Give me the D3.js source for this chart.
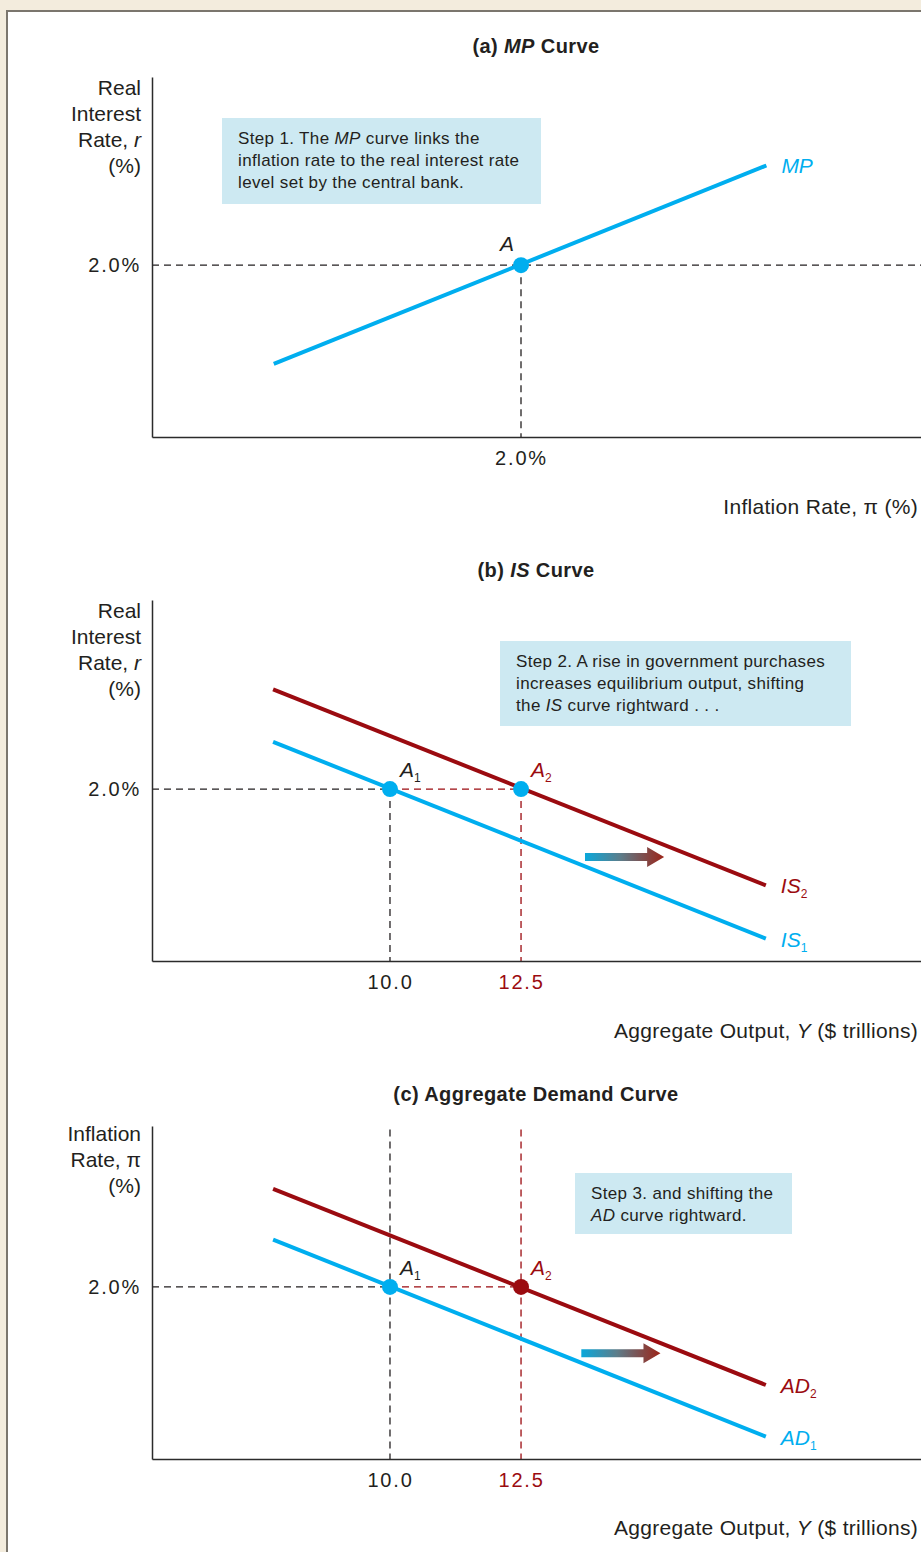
<!DOCTYPE html>
<html>
<head>
<meta charset="utf-8">
<script src="https://cdn.jsdelivr.net/npm/d3@7"></script>
<style>
  body { margin: 0; background: #f3ecdd; }
  svg { display: block; font-family: "Liberation Sans", Arial, sans-serif; }
</style>
</head>
<body>
<svg id="chart" width="921" height="1552"></svg>
<script>
// ---- data ----
// (a) MP curve: inflation (%) vs real interest rate (%)
const mpCurve = [{x: 0.66, y: 0.85}, {x: 3.33, y: 3.16}];
const mpPoints = [{x: 2.0, y: 2.0, name: "A", sub: ""}];
const inflationTicks = [2.0];

// (b) IS curves: output ($ trillions) vs real interest rate (%)
const isCurve1 = [{x: 7.77, y: 2.55}, {x: 17.17, y: 0.26}];
const isCurve2 = [{x: 7.77, y: 3.16}, {x: 17.17, y: 0.88}];
const isPoints = [{x: 10.0, y: 2.0, name: "A", sub: "1"}, {x: 12.5, y: 2.0, name: "A", sub: "2"}];

// (c) AD curves: output ($ trillions) vs inflation (%)
const adCurve1 = [{x: 7.77, y: 2.55}, {x: 17.17, y: 0.26}];
const adCurve2 = [{x: 7.77, y: 3.14}, {x: 17.17, y: 0.86}];
const adPoints = [{x: 10.0, y: 2.0, name: "A", sub: "1"}, {x: 12.5, y: 2.0, name: "A", sub: "2"}];

const outputTicks = [10.0, 12.5];
const rateTicks = [2.0];

const BLUE = "#00aeef";
const RED = "#9b0b10";
const INK = "#231f20";
const BOX = "#cde9f2";

const svg = d3.select("#chart");

// panel frame
svg.append("rect")
    .attr("x", 7).attr("y", 11)
    .attr("width", 930).attr("height", 1560)
    .attr("fill", "#fff")
    .attr("stroke", "#7b766d")
    .attr("stroke-width", 2);

// arrow gradient
const defs = svg.append("defs");
const grad = defs.append("linearGradient").attr("id", "shiftGrad");
grad.append("stop").attr("offset", "0%").attr("stop-color", "#0aa8db");
grad.append("stop").attr("offset", "45%").attr("stop-color", "#5d7d8a");
grad.append("stop").attr("offset", "100%").attr("stop-color", "#9c2418");

function richText(sel, parts) {
    parts.forEach(p => {
        const seg = typeof p === "string" ? {t: p} : p;
        sel.append("tspan")
            .attr("font-style", seg.i ? "italic" : null)
            .text(seg.t);
    });
}

const pct = d => d.toFixed(1) + "%";
const dec = d => d.toFixed(1);

const panels = [
    {
        title: ["(a) ", {t: "MP", i: true}, " Curve"], titleY: 53,
        top: 77, bottom: 437, xDomain: [0, 4.168], yMax: 4.19,
        yLabel: [["Real"], ["Interest"], ["Rate, ", {t: "r", i: true}], ["(%)"]], yLabelY: 95,
        xLabel: ["Inflation Rate, \u03c0 (%)"], xLabelY: 514,
        xTicks: inflationTicks, xFormat: pct, xTickColor: () => INK, yTicks: rateTicks,
        curves: [{data: mpCurve, color: BLUE, label: "MP", sub: ""}],
        guides: [
            {x1: 0, y1: 2, x2: 4.168, y2: 2, color: INK},
            {x1: 2, y1: 2, x2: 2, y2: 0, color: INK}
        ],
        points: mpPoints, pointColors: [BLUE], labelColors: [INK],
        box: {x: 222, y: 118, w: 319, h: 86, lines: [
            ["Step 1. The ", {t: "MP", i: true}, " curve links the"],
            ["inflation rate to the real interest rate"],
            ["level set by the central bank."]
        ]},
        arrow: null
    },
    {
        title: ["(b) ", {t: "IS", i: true}, " Curve"], titleY: 577,
        top: 600, bottom: 961, xDomain: [5.46, 20.13], yMax: 4.2,
        yLabel: [["Real"], ["Interest"], ["Rate, ", {t: "r", i: true}], ["(%)"]], yLabelY: 618,
        xLabel: ["Aggregate Output, ", {t: "Y", i: true}, " ($ trillions)"], xLabelY: 1038,
        xTicks: outputTicks, xFormat: dec, xTickColor: d => d === 12.5 ? RED : INK, yTicks: rateTicks,
        curves: [
            {data: isCurve2, color: RED, label: "IS", sub: "2"},
            {data: isCurve1, color: BLUE, label: "IS", sub: "1"}
        ],
        guides: [
            {x1: 5.46, y1: 2, x2: 10, y2: 2, color: INK},
            {x1: 10, y1: 2, x2: 12.5, y2: 2, color: RED},
            {x1: 10, y1: 2, x2: 10, y2: 0, color: INK},
            {x1: 12.5, y1: 2, x2: 12.5, y2: 0, color: RED}
        ],
        points: isPoints, pointColors: [BLUE, BLUE], labelColors: [INK, RED],
        box: {x: 500, y: 641, w: 351, h: 85, lines: [
            ["Step 2. A rise in government purchases"],
            ["increases equilibrium output, shifting"],
            ["the ", {t: "IS", i: true}, " curve rightward . . ."]
        ]},
        arrow: {x1: 13.72, x2: 15.23, y: 1.21}
    },
    {
        title: ["(c) Aggregate Demand Curve"], titleY: 1101,
        top: 1126, bottom: 1459, xDomain: [5.46, 20.13], yMax: 3.87,
        yLabel: [["Inflation"], ["Rate, \u03c0"], ["(%)"]], yLabelY: 1141,
        xLabel: ["Aggregate Output, ", {t: "Y", i: true}, " ($ trillions)"], xLabelY: 1535,
        xTicks: outputTicks, xFormat: dec, xTickColor: d => d === 12.5 ? RED : INK, yTicks: rateTicks,
        curves: [
            {data: adCurve2, color: RED, label: "AD", sub: "2"},
            {data: adCurve1, color: BLUE, label: "AD", sub: "1"}
        ],
        guides: [
            {x1: 5.46, y1: 2, x2: 10, y2: 2, color: INK},
            {x1: 10, y1: 2, x2: 12.5, y2: 2, color: RED},
            {x1: 10, y1: 3.83, x2: 10, y2: 0, color: INK},
            {x1: 12.5, y1: 3.83, x2: 12.5, y2: 0, color: RED}
        ],
        points: adPoints, pointColors: [BLUE, RED], labelColors: [INK, RED],
        box: {x: 575, y: 1173, w: 217, h: 61, lines: [
            ["Step 3. and shifting the"],
            [{t: "AD", i: true}, " curve rightward."]
        ]},
        arrow: {x1: 13.65, x2: 15.16, y: 1.23}
    }
];

panels.forEach(drawPanel);

function drawPanel(p) {
    const x = d3.scaleLinear().domain(p.xDomain).range([152, 921]);
    const y = d3.scaleLinear().domain([0, p.yMax]).range([p.bottom, p.top]);
    const g = svg.append("g");

    // title
    richText(g.append("text")
        .attr("x", 536).attr("y", p.titleY)
        .attr("text-anchor", "middle")
        .attr("font-size", 20).attr("font-weight", "bold")
        .style("letter-spacing", "0.4px")
        .attr("fill", INK), p.title);

    // step box
    const b = p.box;
    g.append("rect")
        .attr("x", b.x).attr("y", b.y).attr("width", b.w).attr("height", b.h)
        .attr("fill", BOX);
    b.lines.forEach((ln, i) => {
        richText(g.append("text")
            .attr("x", b.x + 16).attr("y", b.y + 26 + i * 22)
            .attr("font-size", 17).style("letter-spacing", "0.35px")
            .attr("fill", INK), ln);
    });

    // dashed guides
    g.selectAll("line.guide")
        .data(p.guides)
        .enter().append("line")
        .attr("class", "guide")
        .attr("x1", d => x(d.x1)).attr("y1", d => y(d.y1))
        .attr("x2", d => x(d.x2)).attr("y2", d => y(d.y2))
        .attr("stroke", d => d.color)
        .attr("stroke-width", 1.3)
        .attr("stroke-dasharray", "7,5");

    // axes
    const yAxis = g.append("g")
        .attr("transform", "translate(152,0)")
        .call(d3.axisLeft(y).tickValues(p.yTicks).tickSize(0).tickPadding(11).tickFormat(pct));
    const xAxis = g.append("g")
        .attr("transform", `translate(0,${p.bottom})`)
        .call(d3.axisBottom(x).tickValues(p.xTicks).tickSize(0).tickPadding(14).tickFormat(p.xFormat));
    [yAxis, xAxis].forEach(a => {
        a.attr("font-family", null).attr("font-size", 20);
        a.select(".domain").attr("stroke", "#2b2b2b").attr("stroke-width", 1.5);
        a.selectAll("text").attr("fill", INK).style("letter-spacing", "1.8px");
    });
    xAxis.selectAll("text").attr("fill", d => p.xTickColor(d));

    // axis titles
    p.yLabel.forEach((ln, i) => {
        richText(g.append("text")
            .attr("x", 141).attr("y", p.yLabelY + i * 26)
            .attr("text-anchor", "end")
            .attr("font-size", 21).attr("fill", INK), ln);
    });
    richText(g.append("text")
        .attr("x", 918).attr("y", p.xLabelY)
        .attr("text-anchor", "end")
        .attr("font-size", 21).style("letter-spacing", "0.3px")
        .attr("fill", INK), p.xLabel);

    // curves
    const line = d3.line().x(d => x(d.x)).y(d => y(d.y));
    p.curves.forEach(c => {
        g.append("path")
            .attr("d", line(c.data))
            .attr("fill", "none")
            .attr("stroke", c.color)
            .attr("stroke-width", 4);
        const end = c.data[c.data.length - 1];
        const t = g.append("text")
            .attr("x", x(end.x) + 15).attr("y", y(end.y) + 8)
            .attr("font-size", 21)
            .attr("fill", c.color);
        t.append("tspan").attr("font-style", "italic").text(c.label);
        if (c.sub) t.append("tspan").attr("font-size", 12).attr("dy", 5).text(c.sub);
    });

    // shift arrow
    if (p.arrow) {
        const a = p.arrow;
        const x1 = x(a.x1), x2 = x(a.x2), yc = y(a.y);
        const head = 17, sh = 4, hh = 10;
        g.append("path")
            .attr("d", `M${x1},${yc - sh}H${x2 - head}V${yc - hh}L${x2},${yc}L${x2 - head},${yc + hh}V${yc + sh}H${x1}Z`)
            .attr("fill", "url(#shiftGrad)");
    }

    // equilibrium points
    p.points.forEach((pt, i) => {
        g.append("circle")
            .attr("cx", x(pt.x)).attr("cy", y(pt.y)).attr("r", 8)
            .attr("fill", p.pointColors[i]);
        const t = g.append("text")
            .attr("font-size", 21)
            .attr("fill", p.labelColors[i]);
        if (pt.sub) {
            t.attr("x", x(pt.x) + 10).attr("y", y(pt.y) - 12);
            t.append("tspan").attr("font-style", "italic").text(pt.name);
            t.append("tspan").attr("font-size", 12).attr("dy", 5).text(pt.sub);
        } else {
            t.attr("x", x(pt.x) - 14).attr("y", y(pt.y) - 14)
                .attr("text-anchor", "middle").attr("font-style", "italic").text(pt.name);
        }
    });
}
</script>
</body>
</html>
